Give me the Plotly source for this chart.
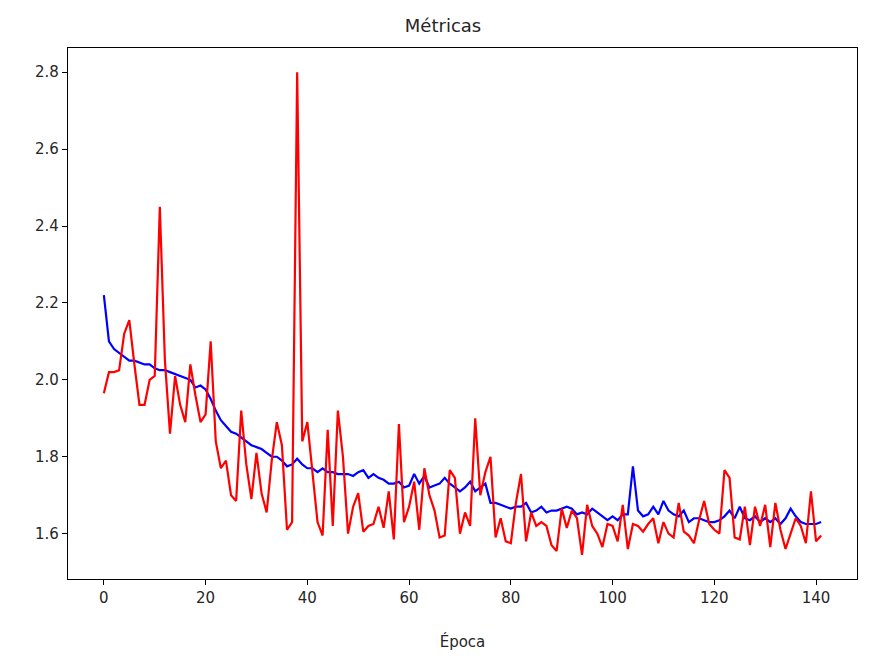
import plotly.graph_objects as go

epochs = list(range(142))

train = [2.22, 2.10, 2.08, 2.07, 2.06, 2.05, 2.05, 2.045, 2.04, 2.04,
         2.03, 2.025, 2.025, 2.02, 2.015, 2.01, 2.005, 2.0, 1.98, 1.985,
         1.975, 1.95, 1.92, 1.895, 1.88, 1.865, 1.86, 1.85, 1.84, 1.83,
         1.825, 1.82, 1.81, 1.80, 1.80, 1.79, 1.775, 1.78, 1.795, 1.78,
         1.77, 1.77, 1.76, 1.77, 1.76, 1.76, 1.755, 1.755, 1.755, 1.75,
         1.76, 1.765, 1.745, 1.755, 1.745, 1.74, 1.73, 1.73, 1.735, 1.72,
         1.725, 1.755, 1.73, 1.75, 1.72, 1.725, 1.73, 1.745, 1.73, 1.72,
         1.71, 1.72, 1.735, 1.71, 1.72, 1.73, 1.68, 1.68, 1.675, 1.67,
         1.665, 1.67, 1.67, 1.68, 1.655, 1.66, 1.67, 1.655, 1.66, 1.66,
         1.665, 1.67, 1.665, 1.65, 1.655, 1.65, 1.665, 1.655, 1.645, 1.635,
         1.645, 1.635, 1.65, 1.65, 1.775, 1.66, 1.645, 1.65, 1.67, 1.65,
         1.685, 1.66, 1.65, 1.645, 1.66, 1.63, 1.64, 1.64, 1.635, 1.63,
         1.63, 1.635, 1.645, 1.66, 1.64, 1.67, 1.64, 1.635, 1.645, 1.63,
         1.64, 1.63, 1.64, 1.625, 1.64, 1.665, 1.645, 1.63, 1.625, 1.625,
         1.625, 1.63]

val = [1.965, 2.02, 2.02, 2.025, 2.12, 2.155, 2.04, 1.935, 1.935, 2.0,
       2.01, 2.45, 2.05, 1.86, 2.01, 1.935, 1.89, 2.04, 1.96, 1.89,
       1.91, 2.10, 1.84, 1.77, 1.79, 1.70, 1.685, 1.92, 1.78, 1.69,
       1.81, 1.705, 1.655, 1.79, 1.89, 1.83, 1.61, 1.63, 2.80, 1.84,
       1.89, 1.75, 1.63, 1.595, 1.87, 1.62, 1.92, 1.80, 1.60, 1.67,
       1.705, 1.605, 1.62, 1.625, 1.67, 1.615, 1.71, 1.585, 1.885, 1.63,
       1.67, 1.735, 1.61, 1.77, 1.70, 1.66, 1.59, 1.595, 1.765, 1.745,
       1.60, 1.655, 1.62, 1.90, 1.70, 1.76, 1.80, 1.59, 1.64, 1.58,
       1.575, 1.68, 1.755, 1.58, 1.655, 1.62, 1.63, 1.62, 1.57, 1.555,
       1.665, 1.615, 1.66, 1.64, 1.545, 1.675, 1.62, 1.60, 1.565, 1.625,
       1.62, 1.58, 1.675, 1.56, 1.625, 1.62, 1.605, 1.625, 1.64, 1.575,
       1.63, 1.60, 1.59, 1.68, 1.605, 1.595, 1.575, 1.635, 1.685, 1.625,
       1.61, 1.60, 1.765, 1.745, 1.59, 1.585, 1.67, 1.57, 1.67, 1.62,
       1.675, 1.565, 1.68, 1.61, 1.56, 1.60, 1.64, 1.62, 1.575, 1.71,
       1.58, 1.595]

xticks = [0, 20, 40, 60, 80, 100, 120, 140]
yticks = [1.6, 1.8, 2.0, 2.2, 2.4, 2.6, 2.8]

fig = go.Figure()
fig.add_trace(go.Scatter(x=epochs, y=train, mode="lines",
                         line=dict(color="#0000ff", width=2.2), name="train"))
fig.add_trace(go.Scatter(x=epochs, y=val, mode="lines",
                         line=dict(color="#ff0000", width=2.2), name="val"))

axis_common = dict(showgrid=False, zeroline=False, showline=True,
                   linecolor="black", linewidth=1.2, mirror=True,
                   ticks="outside", ticklen=5, tickcolor="black",
                   tickfont=dict(family="DejaVu Sans", size=15, color="#262626"))

fig.update_layout(
    width=870, height=662,
    margin=dict(l=60, r=21, t=40, b=91),
    plot_bgcolor="white", paper_bgcolor="white",
    showlegend=False,
    title=dict(text="Métricas", x=0.5, xanchor="center", y=1 - 18/662, yanchor="middle",
               font=dict(family="DejaVu Sans", size=18, color="#262626")),
    xaxis=dict(range=[-7.05, 148.05], tickvals=xticks,
               title=dict(text="Época", font=dict(family="DejaVu Sans", size=15, color="#262626"),
                          standoff=30),
               **axis_common),
    yaxis=dict(range=[1.482, 2.863], tickvals=yticks,
               ticktext=[f"{v:.1f}" for v in yticks],
               **axis_common),
)

fig.write_html("out.html")
